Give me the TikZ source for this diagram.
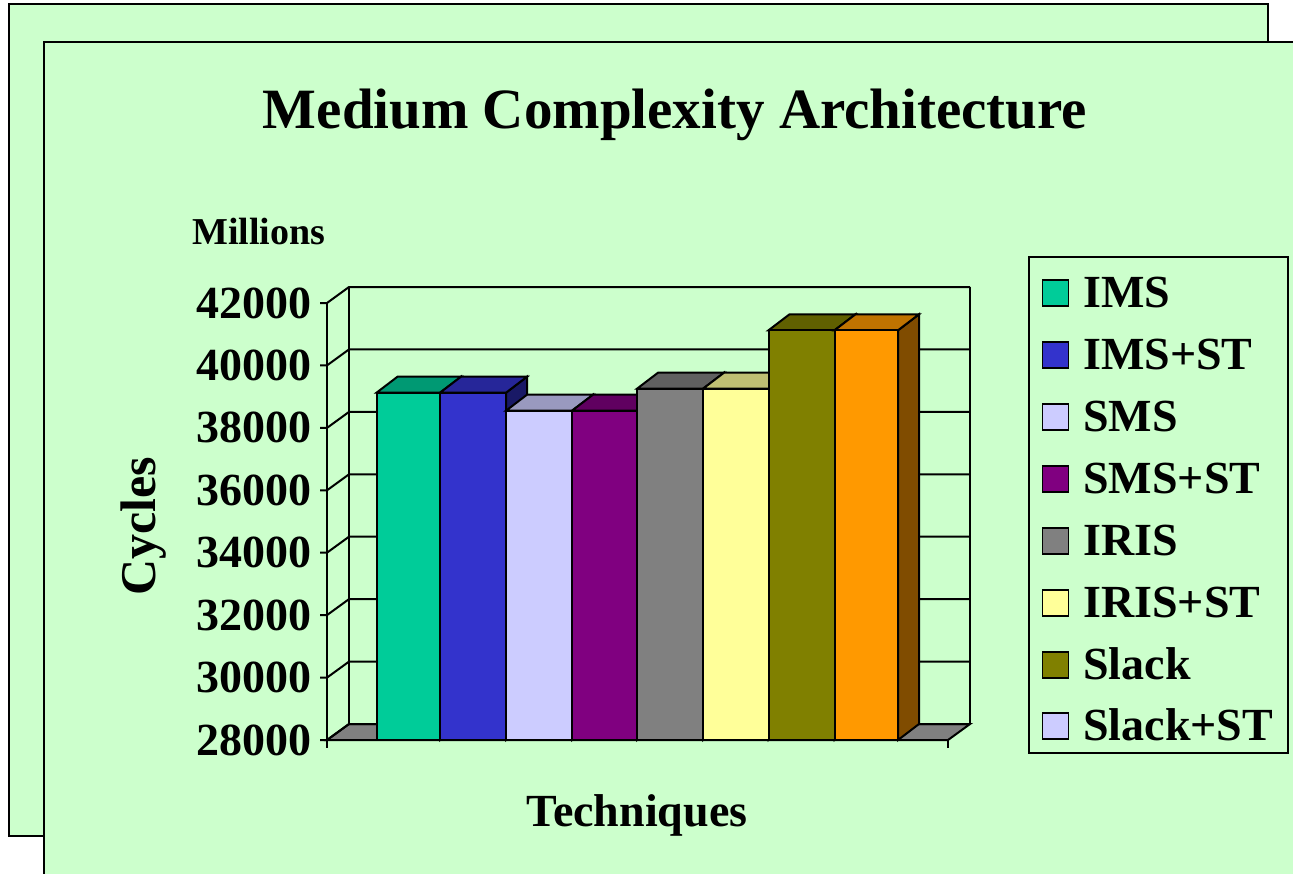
\documentclass[tikz,border=0pt]{standalone}
\usepackage{fontspec}
\setmainfont{Liberation Serif}
\definecolor{bg}{HTML}{CCFFCC}
\definecolor{cIMS}{HTML}{00CC99}
\definecolor{cIMSST}{HTML}{3333CC}
\definecolor{cSMS}{HTML}{CCCCFF}
\definecolor{cSMSST}{HTML}{800080}
\definecolor{cIRIS}{HTML}{808080}
\definecolor{cIRISST}{HTML}{FFFF99}
\definecolor{cSlack}{HTML}{808000}
\definecolor{cSlackST}{HTML}{FF9900}
\tikzset{
  frame/.style={fill=bg, draw=black, line width=2pt},
  ln/.style={draw=black, line width=2pt, line join=miter},
  ttl/.style={font=\bfseries\fontsize{57}{62}\selectfont, inner sep=0pt},
  lbl/.style={font=\bfseries\fontsize{46}{50}\selectfont, inner sep=0pt},
  mil/.style={font=\bfseries\fontsize{38}{42}\selectfont, inner sep=0pt},
  swatch/.style={draw=black, line width=1.8pt, minimum size=26pt, inner sep=0pt},
}
% bar: x1, x2, ytop, front color
\newcommand{\cbar}[4]{%
  \filldraw[ln, fill=#4!50!black] (#2,740) -- (#2+21,724) -- (#2+21,#3-16) -- (#2,#3) -- cycle;
  \filldraw[ln, fill=#4!75!black] (#1,#3) -- (#1+21,#3-16) -- (#2+21,#3-16) -- (#2,#3) -- cycle;
  \filldraw[ln, fill=#4] (#1,#3) rectangle (#2,740);
}
\begin{document}
\begin{tikzpicture}[x=1pt, y=-1pt]
\useasboundingbox (0,0) rectangle (1293,873);
\clip (0,0) rectangle (1293,873);
\fill[white] (0,0) rectangle (1293,873);
% frames
\filldraw[frame] (9,4) rectangle (1268,836);
\filldraw[frame] (44,42) rectangle (1310,890);
% title
\node[ttl, anchor=base] (title) at (675,128) {Medium Complexity Architecture};
\node[mil, anchor=base west] (millions) at (192,244) {Millions};
% floor
\filldraw[ln, fill=cIRIS] (327,740) -- (948,740) -- (970,724) -- (349,724) -- cycle;
% walls and grid
\foreach \v/\y in {28000/740, 30000/677.6, 32000/615.1, 34000/552.7, 36000/490.3, 38000/427.9, 40000/365.4, 42000/303} {
  \draw[ln] (320,\y) -- (327,\y) -- (349,\y-16) -- (970,\y-16);
  \node[lbl, anchor=east] (t\v) at (312,\y) {\v};
}
\draw[ln] (327,303) -- (327,748);
\draw[ln] (349,287) -- (349,724);
\draw[ln] (970,287) -- (970,724);
\draw[ln] (320,740) -- (948,740) -- (948,748);
% bars
\cbar{376.5}{440}{392.7}{cIMS}
\cbar{440}{506}{392.7}{cIMSST}
\cbar{506}{572}{410.7}{cSMS}
\cbar{572}{637}{410.7}{cSMSST}
\cbar{637}{703}{388.7}{cIRIS}
\cbar{703}{768.5}{388.7}{cIRISST}
\cbar{768.5}{834.5}{330.3}{cSlack}
\cbar{834.5}{898}{330.3}{cSlackST}
% axis titles
\node[lbl, font=\bfseries\fontsize{50}{54}\selectfont, rotate=90] (cycles) at (144,526) {Cycles};
\node[lbl, anchor=base] (tech) at (637,826) {Techniques};
% legend
\draw[ln] (1029,257) rectangle (1288,753);
\foreach \c/\t/\y [count=\i] in {cIMS/IMS/293, cIMSST/IMS+ST/355, cSMS/SMS/417, cSMSST/SMS+ST/479, cIRIS/IRIS/541, cIRISST/IRIS+ST/603, cSlack/Slack/665, cSMS/Slack+ST/726} {
  \node[swatch, fill=\c] (sw\i) at (1055.5,\y) {};
  \node[lbl, anchor=base west] (lg\i) at (1083,\y+14) {\t};
}
\end{tikzpicture}
\end{document}
